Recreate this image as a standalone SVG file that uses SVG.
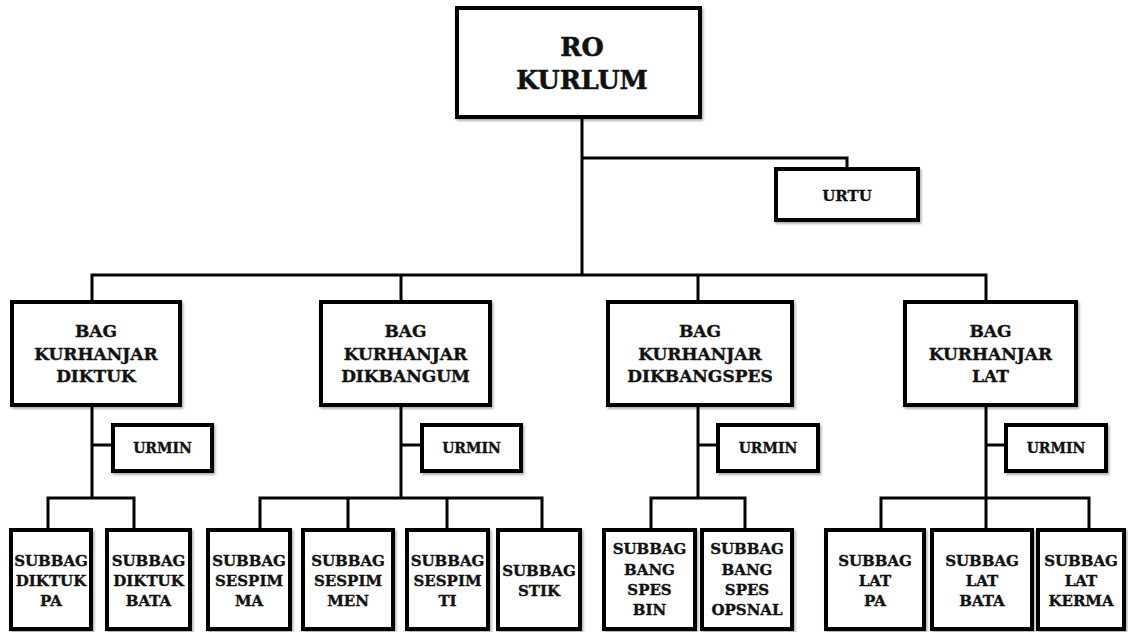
<svg xmlns="http://www.w3.org/2000/svg" width="1128" height="632" viewBox="0 0 1128 632">
<style>
.box{fill:#fff;stroke:#000;stroke-width:4;filter:url(#sh)}
.ln{fill:none;stroke:#000;stroke-width:3;stroke-linejoin:miter}
text{font-family:"DejaVu Serif","Liberation Serif",serif;font-weight:bold;fill:#111;stroke:#111;stroke-width:0.35;text-anchor:middle}
.t1{font-size:25.5px;stroke-width:0.5}
.t2{font-size:17px}
.t3{font-size:14px}
.t4{font-size:15px}
</style>
<defs>
<filter id="sh" x="-10%" y="-10%" width="130%" height="130%">
<feDropShadow dx="1.5" dy="2" stdDeviation="1.2" flood-color="#000" flood-opacity="0.3"/>
</filter>
</defs>
<rect width="1128" height="632" fill="#fff"/>
<g id="connectors">
<path class="ln" d="M582 117V275"/>
<path class="ln" d="M582 158H847V169"/>
<path class="ln" d="M92 302V275H986V302"/>
<path class="ln" d="M401 275V302"/>
<path class="ln" d="M698 275V302"/>
<path class="ln" d="M92 405V498"/>
<path class="ln" d="M92 445H113"/>
<path class="ln" d="M48 530V498H134V530"/>
<path class="ln" d="M401 405V498"/>
<path class="ln" d="M401 445H422"/>
<path class="ln" d="M260 530V498H542V530"/>
<path class="ln" d="M348 498V530"/>
<path class="ln" d="M447 498V530"/>
<path class="ln" d="M698 405V498"/>
<path class="ln" d="M698 445H718"/>
<path class="ln" d="M651 530V498H745V530"/>
<path class="ln" d="M986 405V498"/>
<path class="ln" d="M986 445H1006"/>
<path class="ln" d="M881 530V498H1089V530"/>
<path class="ln" d="M986 498V530"/>
</g>
<g id="ro-kurlum"><rect class="box" x="457" y="8" width="243" height="109"/><text class="t1" x="582" y="56">RO</text><text class="t1" x="582" y="89">KURLUM</text></g>
<g id="urtu"><rect class="box" x="776" y="169" width="142" height="51"/><text class="t4" x="847" y="201">URTU</text></g>

<g id="bag-diktuk"><rect class="box" x="12" y="302" width="168" height="103"/><text class="t2" x="96" y="337">BAG</text><text class="t2" x="96" y="359.5">KURHANJAR</text><text class="t2" x="96" y="382">DIKTUK</text></g>
<g id="bag-dikbangum"><rect class="box" x="321" y="302" width="169" height="103"/><text class="t2" x="405.5" y="337">BAG</text><text class="t2" x="405.5" y="359.5">KURHANJAR</text><text class="t2" x="405.5" y="382">DIKBANGUM</text></g>
<g id="bag-dikbangspes"><rect class="box" x="608" y="302" width="184" height="103"/><text class="t2" x="700" y="337">BAG</text><text class="t2" x="700" y="359.5">KURHANJAR</text><text class="t2" x="700" y="382">DIKBANGSPES</text></g>
<g id="bag-lat"><rect class="box" x="905" y="302" width="171" height="103"/><text class="t2" x="990.5" y="337">BAG</text><text class="t2" x="990.5" y="359.5">KURHANJAR</text><text class="t2" x="990.5" y="382">LAT</text></g>

<g id="urmin-1"><rect class="box" x="113" y="425" width="99" height="46"/><text class="t3" x="162.5" y="453">URMIN</text></g>
<g id="urmin-2"><rect class="box" x="422" y="425" width="99" height="46"/><text class="t3" x="471.5" y="453">URMIN</text></g>
<g id="urmin-3"><rect class="box" x="718" y="425" width="100" height="46"/><text class="t3" x="768" y="453">URMIN</text></g>
<g id="urmin-4"><rect class="box" x="1006" y="425" width="100" height="46"/><text class="t3" x="1056" y="453">URMIN</text></g>

<g id="subbag-diktuk-pa"><rect class="box" x="11" y="530" width="80" height="99"/><text class="t4" x="51" y="566">SUBBAG</text><text class="t4" x="51" y="586">DIKTUK</text><text class="t4" x="51" y="606">PA</text></g>
<g id="subbag-diktuk-bata"><rect class="box" x="107" y="530" width="83" height="99"/><text class="t4" x="148.5" y="566">SUBBAG</text><text class="t4" x="148.5" y="586">DIKTUK</text><text class="t4" x="148.5" y="606">BATA</text></g>
<g id="subbag-sespim-ma"><rect class="box" x="208" y="530" width="82" height="99"/><text class="t4" x="249" y="566">SUBBAG</text><text class="t4" x="249" y="586">SESPIM</text><text class="t4" x="249" y="606">MA</text></g>
<g id="subbag-sespim-men"><rect class="box" x="303" y="530" width="90" height="99"/><text class="t4" x="348" y="566">SUBBAG</text><text class="t4" x="348" y="586">SESPIM</text><text class="t4" x="348" y="606">MEN</text></g>
<g id="subbag-sespim-ti"><rect class="box" x="407" y="530" width="81" height="99"/><text class="t4" x="447.5" y="566">SUBBAG</text><text class="t4" x="447.5" y="586">SESPIM</text><text class="t4" x="447.5" y="606">TI</text></g>
<g id="subbag-stik"><rect class="box" x="498" y="530" width="82" height="99"/><text class="t4" x="539" y="576">SUBBAG</text><text class="t4" x="539" y="596">STIK</text></g>
<g id="subbag-bang-spes-bin"><rect class="box" x="604" y="530" width="91" height="99"/><text class="t4" x="649.5" y="554">SUBBAG</text><text class="t4" x="649.5" y="574.5">BANG</text><text class="t4" x="649.5" y="595">SPES</text><text class="t4" x="649.5" y="615">BIN</text></g>
<g id="subbag-bang-spes-opsnal"><rect class="box" x="702" y="530" width="90" height="99"/><text class="t4" x="747" y="554">SUBBAG</text><text class="t4" x="747" y="574.5">BANG</text><text class="t4" x="747" y="595">SPES</text><text class="t4" x="747" y="615">OPSNAL</text></g>
<g id="subbag-lat-pa"><rect class="box" x="826" y="530" width="98" height="99"/><text class="t4" x="875" y="566">SUBBAG</text><text class="t4" x="875" y="586">LAT</text><text class="t4" x="875" y="606">PA</text></g>
<g id="subbag-lat-bata"><rect class="box" x="932" y="530" width="100" height="99"/><text class="t4" x="982" y="566">SUBBAG</text><text class="t4" x="982" y="586">LAT</text><text class="t4" x="982" y="606">BATA</text></g>
<g id="subbag-lat-kerma"><rect class="box" x="1038" y="530" width="86" height="99"/><text class="t4" x="1081" y="566">SUBBAG</text><text class="t4" x="1081" y="586">LAT</text><text class="t4" x="1081" y="606">KERMA</text></g>
</svg>
